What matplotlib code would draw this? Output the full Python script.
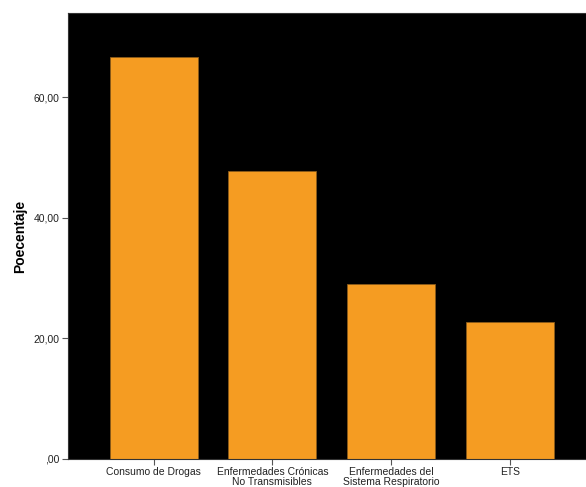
import matplotlib.pyplot as plt
from matplotlib.ticker import FuncFormatter

plt.rcParams['font.family'] = ['Liberation Sans', 'DejaVu Sans']

# data
categories = ["Consumo de Drogas", "Enfermedades Crónicas\nNo Transmisibles",
              "Enfermedades del\nSistema Respiratorio", "ETS"]
porcentaje = [66.7, 47.8, 29.0, 22.7]

fig = plt.figure(figsize=(5.86, 4.87), dpi=100)
ax = fig.add_axes([68/586, 1 - 459/487, (586 - 68)/586, (459 - 13)/487])
ax.set_facecolor("black")

x = range(len(categories))
ax.bar(x, porcentaje, width=0.74, color="#F59C22", edgecolor="#8a5a1a", linewidth=0.6)

ax.set_xlim(-0.72, 3.64)
ax.set_ylim(0, 74)
ax.set_yticks([0, 20, 40, 60])
# comma decimal, like ",00" / "20,00"
ax.yaxis.set_major_formatter(FuncFormatter(lambda v, p: ",00" if v == 0 else f"{v:.2f}".replace(".", ",")))
ax.set_xticks(list(x))
ax.set_xticklabels(categories, fontsize=7.5, linespacing=0.9)
ax.tick_params(axis="y", labelsize=7.5, length=4, pad=2, color="#555555", labelcolor="#222222")
ax.tick_params(axis="x", length=4, pad=2, color="#555555", labelcolor="#222222")
for s in ax.spines.values():
    s.set_color("#333333")
    s.set_linewidth(0.8)

ax.set_ylabel("Poecentaje", fontsize=10, fontweight="bold", labelpad=5)

fig.savefig("out.png", dpi=100)
